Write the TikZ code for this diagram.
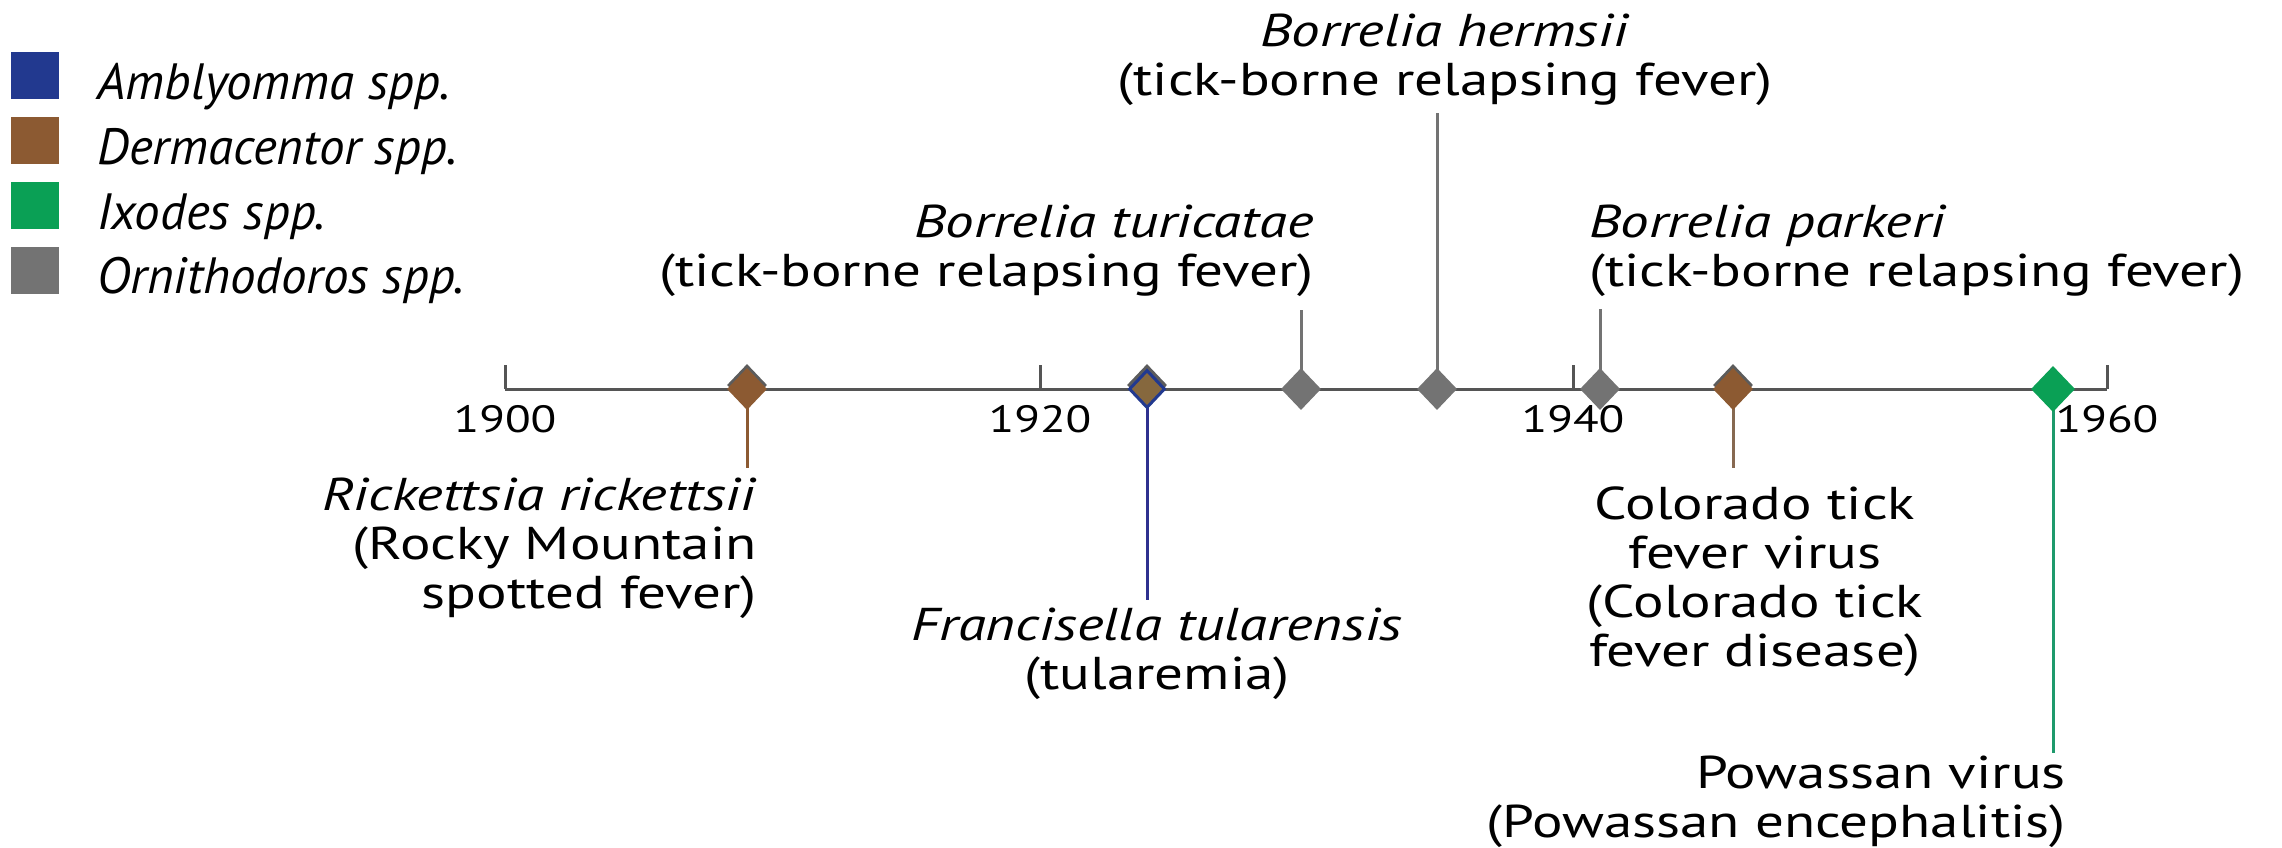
\documentclass[tikz,border=0pt]{standalone}
\usepackage{fontspec}
\setmainfont{PT Sans}
\newfontfamily\lblfont{PT Sans}[FakeStretch=1.24]
\usetikzlibrary{positioning,shapes.geometric}

\definecolor{amblyomma}{HTML}{22398F}
\definecolor{dermacentor}{HTML}{8C5A32}
\definecolor{ixodes}{HTML}{0AA055}
\definecolor{ornithodoros}{HTML}{737373}
\definecolor{axisgray}{HTML}{555555}
\definecolor{bluestem}{HTML}{2E318F}
\definecolor{greenstem}{HTML}{1E9A6C}
\definecolor{olive}{HTML}{86683E}

\begin{document}
\begin{tikzpicture}[x=1pt,y=-1pt,
 axisline/.style={draw=axisgray,line width=3pt},
 stem/.style={line width=3pt},
 gem/.style={diamond,minimum width=40pt,minimum height=42pt,inner sep=0pt},
 lbl/.style={font=\lblfont\fontsize{46}{49}\selectfont,inner sep=0pt},
 year/.style={font=\lblfont\fontsize{38}{40}\selectfont,inner sep=0pt},
 key/.style={minimum width=48pt,minimum height=47pt,inner sep=0pt},
 keytext/.style={font=\fontsize{51}{55}\selectfont\itshape,inner sep=0pt}]
 \fill[white] (0,0) rectangle (2282,847);
 \useasboundingbox (0,0) rectangle (2282,847);

 % legend
 \node[key,fill=amblyomma] (kamb) at (35,75.5) {};
 \node[key,fill=dermacentor] (kder) at (35,140.5) {};
 \node[key,fill=ixodes] (kixo) at (35,205.5) {};
 \node[key,fill=ornithodoros] (korn) at (35,270) {};
 \node[keytext,right=38pt of kamb.south east,anchor=base west] (tamb) {Amblyomma spp.};
 \node[keytext,right=38pt of kder.south east,anchor=base west] (tder) {Dermacentor spp.};
 \node[keytext,right=38pt of kixo.south east,anchor=base west] (tixo) {Ixodes spp.};
 \node[keytext,right=38pt of korn.south east,anchor=base west] (torn) {Ornithodoros spp.};

 % time axis
 \coordinate (a1900) at (505,389);
 \coordinate (a1920) at (1040,389);
 \coordinate (a1940) at (1573,389);
 \coordinate (a1960) at (2107,389);
 \coordinate (k1900) at (505,365);
 \coordinate (k1920) at (1040,365);
 \coordinate (k1940) at (1573,365);
 \coordinate (k1960) at (2107,365);
 \draw[axisline] (a1900)--(a1960);
 \draw[axisline] (a1900)--(k1900);
 \draw[axisline] (a1920)--(k1920);
 \draw[axisline] (a1940)--(k1940);
 \draw[axisline] (a1960)--(k1960);
 \node[year,below=16pt of a1900] (y1900) {1900};
 \node[year,below=16pt of a1920] (y1920) {1920};
 \node[year,below=16pt of a1940] (y1940) {1940};
 \node[year,below=16pt of a1960] (y1960) {1960};

 % events and stems
 \coordinate (p1909) at (747,389);  \coordinate (e1909) at (747,468);
 \coordinate (p1924) at (1147,389); \coordinate (e1924) at (1147,600);
 \coordinate (p1930) at (1301,389); \coordinate (e1930) at (1301,310);
 \coordinate (p1935) at (1437,389); \coordinate (e1935) at (1437,113);
 \coordinate (p1941) at (1600,389); \coordinate (e1941) at (1600,309);
 \coordinate (p1946) at (1733,389); \coordinate (e1946) at (1733,468);
 \coordinate (p1958) at (2053,389); \coordinate (e1958) at (2053,753);
 \draw[stem,dermacentor] (p1909)--(e1909);
 \draw[stem,bluestem] (p1924)--(e1924);
 \draw[stem,ornithodoros] (p1930)--(e1930);
 \draw[stem,ornithodoros] (p1935)--(e1935);
 \draw[stem,ornithodoros] (p1941)--(e1941);
 \draw[stem,dermacentor!60!gray] (p1946)--(e1946);
 \draw[stem,greenstem] (p1958)--(e1958);

 \node[gem,fill=ornithodoros!80!black,yshift=4pt] (g1909) at (p1909) {};
 \node[gem,fill=dermacentor] (d1909) at (p1909) {};
 \node[gem,fill=ornithodoros!80!black,yshift=4pt] (g1924) at (p1924) {};
 \node[gem,fill=olive,draw=amblyomma,line width=3pt,minimum width=36pt,minimum height=38pt] (d1924) at (p1924) {};
 \node[gem,fill=ornithodoros] (d1930) at (p1930) {};
 \node[gem,fill=ornithodoros] (d1935) at (p1935) {};
 \node[gem,fill=ornithodoros] (d1941) at (p1941) {};
 \node[gem,fill=ornithodoros!80!black,yshift=4pt] (g1946) at (p1946) {};
 \node[gem,fill=dermacentor] (d1946) at (p1946) {};
 \node[gem,fill=ixodes,minimum width=44pt,minimum height=46pt] (d1958) at (p1958) {};

 % labels
 \node[lbl,align=right,below=10pt of e1909,anchor=north east,xshift=10pt] (rick) {\textit{Rickettsia rickettsii}\\(Rocky Mountain\\spotted fever)};
 \node[lbl,align=center,below=8pt of e1924,xshift=10pt] (fran) {\textit{Francisella tularensis}\\(tularemia)};
 \node[lbl,align=right,above=13pt of e1930,anchor=south east,xshift=13pt] (turi) {\textit{Borrelia turicatae}\\(tick-borne relapsing fever)};
 \node[lbl,align=center,above=7pt of e1935,xshift=8pt] (herm) {\textit{Borrelia hermsii}\\(tick-borne relapsing fever)};
 \node[lbl,align=left,above=12pt of e1941,anchor=south west,xshift=-11pt] (park) {\textit{Borrelia parkeri}\\(tick-borne relapsing fever)};
 \node[lbl,align=center,below=19pt of e1946,xshift=22pt] (colo) {Colorado tick\\fever virus\\(Colorado tick\\fever disease)};
 \node[lbl,align=right,below=3pt of e1958,anchor=north east,xshift=13pt] (powa) {Powassan virus\\(Powassan encephalitis)};
\end{tikzpicture}
\end{document}
